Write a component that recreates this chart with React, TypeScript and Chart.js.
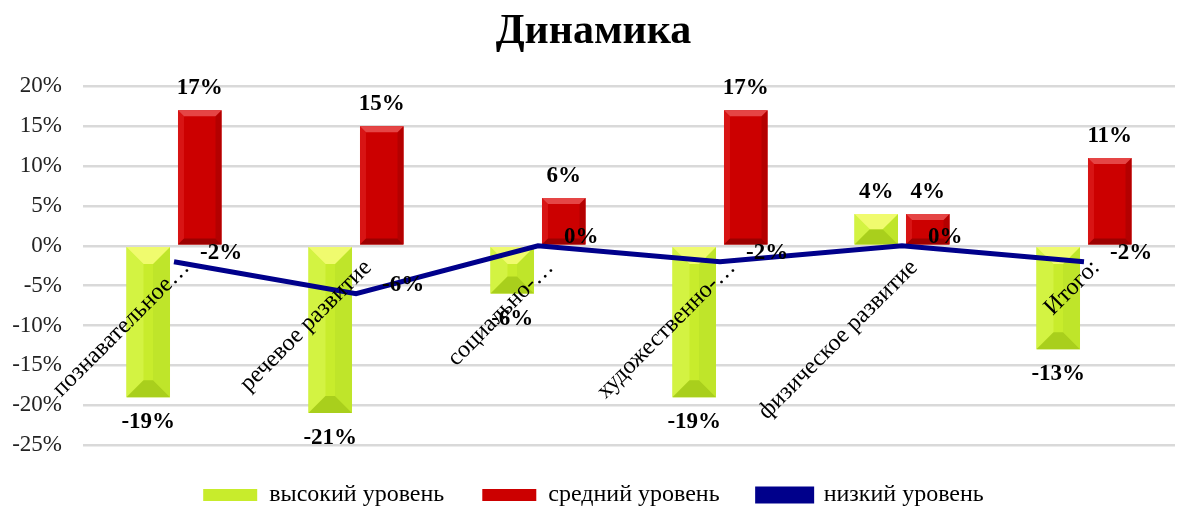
import React, { useEffect, useRef } from 'react';
import { Chart, registerables } from 'chart.js';

Chart.register(...registerables);

const title = 'Динамика';
const categories = ['познавательное…', 'речевое развитие', 'социально-…', 'художественно-…', 'физическое развитие', 'Итого:'];
const seriesNames = ['высокий уровень', 'средний уровень', 'низкий уровень'];
const highLevel = [-19, -21, -6, -19, 4, -13];
const midLevel = [17, 15, 6, 17, 4, 11];
const lowLevel = [-2, -6, 0, -2, 0, -2];
const yMin = -25;
const yMax = 20;
const yStep = 5;

const FONT = "'Liberation Serif', 'Times New Roman', serif";

const bevelStyles: Record<number, any> = {
  0: { depth: 17, top: '#f0fb6e', left: '#d3f342', right: '#bfe52a', bottom: '#a9cf1c' },
  1: { depth: 6, top: '#e54545', left: '#d81414', right: '#b40000', bottom: '#9c0000' },
};

const bevelPlugin = {
  id: 'bevel',
  afterDatasetDraw(chart: any, args: any) {
    const st = bevelStyles[args.index];
    if (!st) return;
    const ctx = chart.ctx;
    ctx.save();
    args.meta.data.forEach((el: any) => {
      const p = el.getProps(['x', 'y', 'base', 'width'], true);
      const l = p.x - p.width / 2;
      const r = p.x + p.width / 2;
      const t = Math.min(p.y, p.base);
      const b = Math.max(p.y, p.base);
      const h = b - t;
      const d = Math.min(st.depth, h / 2, p.width / 2);
      const poly = (pts: number[][], color: string) => {
        ctx.beginPath();
        ctx.moveTo(pts[0][0], pts[0][1]);
        for (let k = 1; k < pts.length; k++) ctx.lineTo(pts[k][0], pts[k][1]);
        ctx.closePath();
        ctx.fillStyle = color;
        ctx.fill();
      };
      poly([[l, t], [l + d, t + d], [l + d, b - d], [l, b]], st.left);
      poly([[r, t], [r - d, t + d], [r - d, b - d], [r, b]], st.right);
      poly([[l, b], [l + d, b - d], [r - d, b - d], [r, b]], st.bottom);
      poly([[l, t], [r, t], [r - d, t + d], [l + d, t + d]], st.top);
    });
    ctx.restore();
  },
};

const labelPlugin = {
  id: 'valueLabels',
  afterDatasetsDraw(chart: any) {
    const ctx = chart.ctx;
    ctx.save();
    ctx.fillStyle = '#000';
    ctx.textBaseline = 'middle';
    chart.data.datasets.forEach((ds: any, di: number) => {
      const meta = chart.getDatasetMeta(di);
      meta.data.forEach((el: any, i: number) => {
        const v = ds.data[i];
        const text = `${v}%`;
        ctx.font = `bold 23px ${FONT}`;
        if (ds.type === 'line') {
          ctx.textAlign = 'left';
          ctx.fillText(text, el.x + 26, el.y - 9);
        } else {
          ctx.textAlign = 'center';
          const y = v >= 0 ? el.y - 22 : el.y + 25;
          ctx.fillText(text, el.x, y);
        }
      });
    });
    ctx.restore();
  },
};

export default function App() {
  const ref = useRef<HTMLCanvasElement>(null);
  useEffect(() => {
    document.body.style.margin = '0';
    const c = ref.current!;
    const chart = new Chart(c, {
      type: 'bar',
      data: {
        labels: categories,
        datasets: [
          {
            type: 'bar',
            label: seriesNames[0],
            data: highLevel,
            backgroundColor: '#c8ec2c',
            borderColor: '#c8ec2c',
            borderWidth: 0,
            categoryPercentage: 0.566,
            barPercentage: 0.845,
          },
          {
            type: 'bar',
            label: seriesNames[1],
            data: midLevel,
            backgroundColor: '#cc0000',
            borderColor: '#cc0000',
            borderWidth: 0,
            categoryPercentage: 0.566,
            barPercentage: 0.845,
          },
          {
            type: 'line',
            label: seriesNames[2],
            data: lowLevel,
            borderColor: '#00008b',
            backgroundColor: '#00008b',
            borderWidth: 5,
            pointRadius: 0,
            tension: 0,
            order: -1,
          } as any,
        ],
      },
      options: {
        animation: false,
        responsive: false,
        maintainAspectRatio: false,
        layout: { padding: { left: 12, right: 8, top: 0, bottom: -9 } },
        plugins: {
          title: {
            display: true,
            text: title,
            font: { family: FONT, size: 42, weight: 'bold' },
            color: '#000',
            padding: { top: 7, bottom: 29 },
          },
          legend: {
            position: 'bottom',
            labels: {
              font: { family: FONT, size: 24 },
              color: '#000',
              boxWidth: 54,
              boxHeight: 12,
              padding: 38,
              sort: (a: any, b: any) => a.datasetIndex - b.datasetIndex,
            },
          },
          tooltip: { enabled: false },
        },
        scales: {
          x: {
            position: { y: 0 } as any,
            grid: { display: false },
            border: { display: false },
            afterFit: (s: any) => {
              s.paddingLeft = 0;
              s.paddingRight = 0;
            },
            ticks: {
              z: 1,
              minRotation: 45,
              maxRotation: 45,
              autoSkip: false,
              labelOffset: 12,
              font: { family: FONT, size: 24 },
              color: '#000',
              padding: 0,
            },
          },
          y: {
            min: yMin,
            max: yMax,
            afterFit: (s: any) => {
              s.width = 71;
            },
            ticks: {
              stepSize: yStep,
              callback: (v: any) => `${v}%`,
              font: { family: FONT, size: 23 },
              color: '#222',
              padding: 21,
            },
            grid: { color: '#d9d9d9', lineWidth: 2.5, drawTicks: false },
            border: { display: false },
          },
        },
      },
      plugins: [bevelPlugin, labelPlugin],
    });
    return () => chart.destroy();
  }, []);
  return (
    <div style={{ width: 1183, height: 508 }}>
      <canvas ref={ref} width={1183} height={508} />
    </div>
  );
}
